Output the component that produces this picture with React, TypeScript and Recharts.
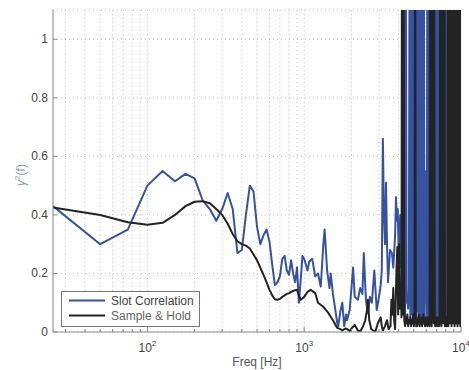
import React from 'react';
import { LineChart, Line, XAxis, YAxis, CartesianGrid, Legend } from 'recharts';

// 25 Hz bins at the low end, shared by both estimates
const lowFreq = [25, 50, 75, 100, 125, 150, 175, 200, 225, 250, 275, 300, 325, 350, 375, 400, 425, 450, 475, 500, 525, 550, 575, 600, 625, 650, 675, 700, 725, 750, 775, 800, 825, 850, 875, 900, 925, 950, 975];
const slotLow = [0.43, 0.30, 0.35, 0.50, 0.55, 0.515, 0.54, 0.525, 0.45, 0.42, 0.38, 0.42, 0.475, 0.42, 0.27, 0.28, 0.40, 0.50, 0.48, 0.36, 0.30, 0.33, 0.35, 0.31, 0.23, 0.16, 0.17, 0.19, 0.25, 0.26, 0.21, 0.195, 0.245, 0.20, 0.17, 0.22, 0.10, 0.18, 0.26];
const holdLow = [0.425, 0.40, 0.375, 0.366, 0.373, 0.40, 0.43, 0.445, 0.447, 0.44, 0.42, 0.40, 0.37, 0.335, 0.31, 0.30, 0.295, 0.285, 0.265, 0.245, 0.22, 0.195, 0.17, 0.145, 0.125, 0.112, 0.11, 0.113, 0.12, 0.125, 0.13, 0.133, 0.137, 0.14, 0.143, 0.144, 0.125, 0.11, 0.115];

// 1 - 4 kHz
const slotMidFreq = [1000, 1050, 1075, 1125, 1175, 1225, 1275, 1325, 1350, 1400, 1450, 1475, 1525, 1575, 1625, 1650, 1700, 1750, 1800, 1850, 1875, 1950, 2050, 2100, 2200, 2275, 2350, 2400, 2475, 2550, 2625, 2700, 2800, 2900, 3000, 3075, 3125, 3175, 3225, 3275, 3325, 3375, 3425, 3525, 3625, 3700, 3800, 3850, 3900, 3950, 4000, 4050, 4100, 4150];
const slotMid = [0.25, 0.21, 0.24, 0.25, 0.19, 0.20, 0.155, 0.30, 0.35, 0.21, 0.15, 0.20, 0.13, 0.08, 0.03, 0.02, 0.07, 0.10, 0.02, 0.06, 0.04, 0.075, 0.22, 0.12, 0.11, 0.15, 0.13, 0.27, 0.11, 0.065, 0.12, 0.10, 0.21, 0.075, 0.12, 0.16, 0.21, 0.66, 0.40, 0.30, 0.51, 0.30, 0.17, 0.28, 0.27, 0.22, 0.33, 0.46, 0.38, 0.42, 0.28, 0.35, 0.40, 0.22];
const holdMidFreq = [1000, 1050, 1100, 1175, 1225, 1325, 1425, 1525, 1625, 1700, 1750, 1825, 1875, 1950, 2025, 2100, 2200, 2275, 2375, 2450, 2525, 2550, 2600, 2675, 2750, 2850, 2950, 3075, 3125, 3175, 3275, 3375, 3450, 3550, 3600, 3650, 3700, 3750, 3800, 3875, 3925, 3975, 4025, 4075, 4125, 4175];
const holdMid = [0.12, 0.137, 0.144, 0.133, 0.10, 0.086, 0.065, 0.04, 0.014, 0.01, 0.005, 0.012, 0.01, 0.003, 0.015, 0.024, 0.005, 0.002, 0.02, 0.04, 0.08, 0.11, 0.04, 0.01, 0.005, 0.003, 0.03, 0.05, 0.02, 0.005, 0.02, 0.04, 0.01, 0.02, 0.11, 0.06, 0.15, 0.04, 0.01, 0.21, 0.29, 0.06, 0.30, 0.08, 0.15, 0.05];

// above ~4 kHz both estimates blow up (values > 1 run off the top)
const denseFreq = [
  4200, 4250, 4300, 4350, 4400, 4450, 4500, 4550, 4600, 4650,
  4700, 4750, 4800, 4850, 4900, 4950, 5000, 5050, 5100, 5150,
  5200, 5250, 5300, 5350, 5400, 5450, 5500, 5550, 5600, 5650,
  5700, 5750, 5800, 5850, 5900, 5950, 6000, 6050, 6100, 6150,
  6200, 6250, 6300, 6350, 6400, 6450, 6500, 6550, 6600, 6650,
  6700, 6750, 6800, 6850, 6900, 6950, 7000, 7050, 7100, 7150,
  7200, 7250, 7300, 7350, 7400, 7450, 7500, 7550, 7600, 7650,
  7700, 7750, 7800, 7850, 7900, 7950, 8000, 8050, 8100, 8150,
  8200, 8250, 8300, 8350, 8400, 8450, 8500, 8550, 8600, 8650,
  8700, 8750, 8800, 8850, 8900, 8950, 9000, 9050, 9100, 9150,
  9200, 9250, 9300, 9350, 9400, 9450, 9500, 9550, 9600, 9650,
  9700, 9750, 9800, 9850, 9900, 9950, 10000,
];
const slotDense = [
  0.30, 0.15, 0.25, 1.4, 0.05, 1.4, 0.10, 0.12, 0.08, 0.15,
  1.4, 0.04, 1.4, 0.06, 1.4, 0.03, 1.4, 0.05, 1.4, 0.02,
  1.4, 0.07, 1.4, 0.03, 1.4, 0.05, 1.4, 0.04, 1.4, 0.06,
  1.4, 0.03, 1.4, 0.05, 0.50, 0.10, 0.55, 0.05, 1.4, 0.04,
  1.4, 0.06, 1.4, 0.08, 0.20, 0.10, 0.25, 0.06, 0.18, 0.09,
  0.22, 0.05, 0.15, 1.4, 0.03, 1.4, 0.05, 1.4, 0.04, 1.4,
  0.06, 1.4, 0.05, 0.20, 0.08, 0.28, 0.10, 0.18, 0.06, 0.24,
  0.09, 0.15, 0.05, 0.20, 1.4, 0.04, 1.4, 0.06, 1.4, 0.03,
  1.4, 0.10, 0.30, 0.08, 0.22, 0.12, 0.35, 0.06, 0.18, 0.10,
  0.28, 0.05, 0.20, 0.09, 0.32, 0.04, 0.18, 0.07, 0.25, 0.10,
  0.30, 0.06, 0.15, 0.08, 0.22, 0.05, 0.28, 0.09, 0.18, 0.06,
  0.24, 0.10, 0.15, 0.04, 0.20, 0.08, 0.12,
];
const holdDense = [
  1.4, 0.06, 1.4, 0.04, 0.02, 0.05, 0.03, 0.06, 0.02, 0.04,
  0.03, 0.05, 0.02, 0.04, 0.03, 0.06, 0.02, 0.04, 1.4, 0.03,
  0.05, 0.02, 0.04, 0.03, 0.06, 0.02, 0.04, 0.03, 0.05, 0.02,
  0.04, 0.06, 0.03, 0.04, 0.02, 0.05, 0.03, 0.04, 0.02, 0.05,
  0.03, 0.04, 0.02, 1.4, 0.03, 1.4, 0.02, 1.4, 0.04, 1.4,
  0.03, 1.4, 0.05, 0.02, 0.04, 0.03, 0.05, 0.02, 0.04, 0.03,
  0.05, 0.02, 0.04, 1.4, 0.03, 1.4, 0.02, 1.4, 0.04, 1.4,
  0.03, 1.4, 0.05, 1.4, 0.02, 0.04, 0.03, 0.05, 0.02, 0.04,
  0.03, 1.4, 0.02, 1.4, 0.04, 1.4, 0.03, 1.4, 0.05, 1.4,
  0.02, 1.4, 0.04, 1.4, 0.03, 1.4, 0.05, 1.4, 0.02, 1.4,
  0.04, 1.4, 0.03, 1.4, 0.05, 1.4, 0.02, 1.4, 0.04, 1.4,
  0.03, 1.4, 0.05, 1.4, 0.02, 1.4, 0.04,
];

const seriesNames = ['Slot Correlation', 'Sample & Hold'];

const xTicks = [30, 40, 50, 60, 70, 80, 90, 100, 200, 300, 400, 500, 600, 700, 800, 900, 1000, 2000, 3000, 4000, 5000, 6000, 7000, 8000, 9000, 10000];
const xMajor = [100, 1000, 10000];
const yTicks = [0, 0.2, 0.4, 0.6, 0.8, 1];

const toPoints = (f: number[], v: number[]) => f.map((x, i) => ({ f: x, v: v[i] }));

const slotData = [...toPoints(lowFreq, slotLow), ...toPoints(slotMidFreq, slotMid), ...toPoints(denseFreq, slotDense)];
const holdData = [...toPoints(lowFreq, holdLow), ...toPoints(holdMidFreq, holdMid), ...toPoints(denseFreq, holdDense)];

const AXIS = '#8c8c8c';
const TEXT = '#444';
const BLUE = '#3553a0';
const BLACK = '#232323';

const BottomTick = (props: any) => {
  const { x, y, payload } = props;
  const major = xMajor.includes(payload.value);
  return (
    <g>
      <line x1={x} y1={y} x2={x} y2={y - (major ? 5 : 3)} stroke={AXIS} />
      {major && (
        <text x={x} y={y + 20} textAnchor="middle" fill={TEXT} fontSize={12}>
          10<tspan dy={-6} fontSize={8}>{Math.round(Math.log10(payload.value))}</tspan>
        </text>
      )}
    </g>
  );
};

const TopTick = (props: any) => {
  const { x, y, payload } = props;
  const major = xMajor.includes(payload.value);
  return <line x1={x} y1={y} x2={x} y2={y + (major ? 5 : 3)} stroke={AXIS} />;
};

const LeftTick = (props: any) => {
  const { x, y, payload } = props;
  return (
    <g>
      <line x1={x} y1={y} x2={x + 4} y2={y} stroke={AXIS} />
      <text x={x - 5} y={y + 4} textAnchor="end" fill={TEXT} fontSize={12}>{payload.value}</text>
    </g>
  );
};

const RightTick = (props: any) => {
  const { x, y } = props;
  return <line x1={x} y1={y} x2={x - 4} y2={y} stroke={AXIS} />;
};

const XTitle = ({ viewBox }: any) => (
  <text x={viewBox.x + viewBox.width / 2} y={viewBox.y + 34} textAnchor="middle" fill="#555" fontSize={12}>
    Freq [Hz]
  </text>
);

const YTitle = ({ viewBox }: any) => {
  const cx = viewBox.x + 12;
  const cy = viewBox.y + viewBox.height / 2 + 4;
  return (
    <text x={cx} y={cy} transform={`rotate(-90 ${cx} ${cy})`} textAnchor="middle" fill="#8b97ab" fontSize={12}>
      <tspan fontStyle="italic">γ</tspan>
      <tspan dy={-5} fontSize={8}>2</tspan>
      <tspan dy={5}>(f)</tspan>
    </text>
  );
};

// keep legend rows in plotting order
const LegendBox = ({ payload }: any) => {
  const items = [...(payload || [])].sort((a: any, b: any) => seriesNames.indexOf(a.value) - seriesNames.indexOf(b.value));
  return (
    <svg width={139} height={36} style={{ display: 'block' }}>
      <rect x={0.5} y={0.5} width={138} height={35} fill="#fff" stroke="#777" />
      {items.map((p: any, i: number) => (
        <g key={p.value}>
          <line x1={8} x2={44} y1={9.5 + i * 15} y2={9.5 + i * 15} stroke={p.color} strokeWidth={2} />
          <text x={50} y={14 + i * 15} fontSize={12} fill={i === 0 ? TEXT : '#666'}>{p.value}</text>
        </g>
      ))}
    </svg>
  );
};

export default function App() {
  return (
    <div style={{ position: 'absolute', left: 0, top: 0, background: '#fff', fontFamily: '"Liberation Sans", Arial, sans-serif' }}>
      <LineChart width={469} height={370} margin={{ top: 10, right: 8, bottom: 8, left: 13 }}>
        <CartesianGrid stroke="#c4c4c4" strokeDasharray="1 3" />
        <XAxis
          dataKey="f"
          type="number"
          scale="log"
          domain={[25, 10000]}
          allowDataOverflow
          ticks={xTicks}
          interval={0}
          height={30}
          tickSize={0}
          tickMargin={0}
          tick={<BottomTick />}
          axisLine={{ stroke: AXIS }}
          label={{ content: <XTitle /> } as any}
        />
        <XAxis
          xAxisId="top"
          orientation="top"
          dataKey="f"
          type="number"
          scale="log"
          domain={[25, 10000]}
          allowDataOverflow
          ticks={xTicks}
          interval={0}
          height={0}
          tickSize={0}
          tickMargin={0}
          tick={<TopTick />}
          axisLine={{ stroke: AXIS }}
        />
        <YAxis
          type="number"
          domain={[0, 1.1]}
          allowDataOverflow
          ticks={yTicks}
          interval={0}
          width={40}
          tickSize={0}
          tickMargin={0}
          tick={<LeftTick />}
          axisLine={{ stroke: AXIS }}
          label={{ content: <YTitle /> } as any}
        />
        <YAxis
          yAxisId="right"
          orientation="right"
          type="number"
          domain={[0, 1.1]}
          allowDataOverflow
          ticks={yTicks}
          interval={0}
          width={0}
          tickSize={0}
          tickMargin={0}
          tick={<RightTick />}
          axisLine={{ stroke: AXIS }}
        />
        <Legend
          layout="vertical"
          align="center"
          verticalAlign="middle"
          wrapperStyle={{ left: 61, top: 291, width: 139, height: 36 }}
          content={<LegendBox />}
        />
        <Line
          data={slotData}
          dataKey="v"
          name={seriesNames[0]}
          type="linear"
          stroke={BLUE}
          strokeWidth={2}
          strokeLinejoin="round"
          dot={false}
          activeDot={false}
          isAnimationActive={false}
        />
        <Line
          data={holdData}
          dataKey="v"
          name={seriesNames[1]}
          type="linear"
          stroke={BLACK}
          strokeWidth={2}
          strokeLinejoin="round"
          dot={false}
          activeDot={false}
          isAnimationActive={false}
        />
      </LineChart>
    </div>
  );
}
